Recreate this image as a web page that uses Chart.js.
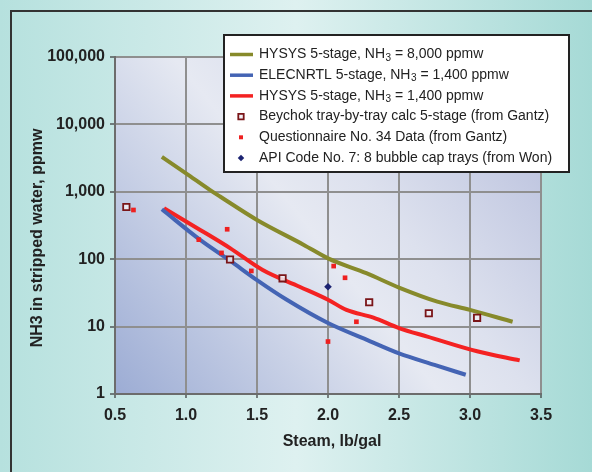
<!DOCTYPE html>
<html>
<head>
<meta charset="utf-8">
<script src="https://cdn.jsdelivr.net/npm/chart.js@4.4.1/dist/chart.umd.min.js"></script>
<style>
  html, body { margin: 0; padding: 0; background: #bfe4e1; }
  #wrap { width: 592px; height: 472px; }
</style>
</head>
<body>
<div id="wrap"><canvas id="c" width="592" height="472"></canvas></div>
<script>
// Steam rate (lb/gal) vs NH3 left in stripped water (ppmw)
const hysys8000X = [0.83, 1.0, 1.17, 1.24, 1.5, 1.83, 2.0, 2.27, 2.5, 2.77, 3.0, 3.3];
const hysys8000Y = [3300, 1880, 1060, 850, 382, 163, 103, 62, 38, 23.5, 17.7, 11.8];

const elecnrtlX = [0.83, 1.1, 1.31, 1.5, 1.71, 2.0, 2.27, 2.5, 2.75, 2.97];
const elecnrtlY = [550, 193, 95, 49, 25, 11.3, 6.4, 4.0, 2.7, 1.93];

const hysys1400X = [0.845, 1.1, 1.31, 1.54, 1.8, 2.0, 2.13, 2.32, 2.5, 2.7, 3.05, 3.35];
const hysys1400Y = [570, 272, 146, 69, 39, 25, 17.7, 13.6, 9.5, 7.1, 4.3, 3.15];

const beychokX = [0.58, 1.31, 1.68, 2.29, 2.71, 3.05];
const beychokY = [595, 99, 52, 23, 15.8, 13.5];

const questionnaireX = [0.63, 1.09, 1.25, 1.29, 1.46, 2.0, 2.04, 2.12, 2.2];
const questionnaireY = [537, 195, 124, 278, 67, 6, 79, 53, 11.8];

const apiX = [2.0];
const apiY = [39];

const xTicks = [0.5, 1.0, 1.5, 2.0, 2.5, 3.0, 3.5];
const yTicks = [1, 10, 100, 1000, 10000, 100000];

const xTitle = 'Steam, lb/gal';
const yTitle = 'NH3 in stripped water, ppmw';

// legend rows: [text before subscript, subscript, text after]
const legendRows = [
  ['HYSYS 5-stage, NH', '3', ' = 8,000 ppmw'],
  ['ELECNRTL 5-stage, NH', '3', ' = 1,400 ppmw'],
  ['HYSYS 5-stage, NH', '3', ' = 1,400 ppmw'],
  ['Beychok tray-by-tray calc 5-stage (from Gantz)', '', ''],
  ['Questionnaire No. 34 Data (from Gantz)', '', ''],
  ['API Code No. 7: 8 bubble cap trays (from Won)', '', '']
];

const OLIVE = '#878a2b';
const BLUE = '#4464b4';
const RED = '#f42222';
const BEY = '#7a1518';
const QRED = '#ee2020';
const NAVY = '#1c2372';

const pairs = (xs, ys) => xs.map((x, i) => ({ x: x, y: ys[i] }));

const FONT = "'Liberation Sans', Arial, sans-serif";

const backdrop = {
  id: 'backdrop',
  beforeDraw(chart) {
    const ctx = chart.ctx;
    const W = chart.width, H = chart.height;
    const a = chart.chartArea;
    ctx.save();
    // outer panel
    const g = ctx.createLinearGradient(0, 0, W, 0);
    g.addColorStop(0, '#b6e1de');
    g.addColorStop(0.5, '#def1f0');
    g.addColorStop(1, '#a6dad6');
    ctx.fillStyle = g;
    ctx.fillRect(0, 0, W, H);
    ctx.strokeStyle = '#333333';
    ctx.lineWidth = 2;
    ctx.strokeRect(11, 11, W + 20, H + 20);
    // plot area
    const pg = ctx.createLinearGradient(a.left, a.bottom, a.right, a.top);
    pg.addColorStop(0, '#9cacd4');
    pg.addColorStop(0.47, '#e6e9f2');
    pg.addColorStop(0.6, '#dde1ee');
    pg.addColorStop(1, '#b2bada');
    ctx.fillStyle = pg;
    ctx.fillRect(a.left, a.top, a.right - a.left, a.bottom - a.top);
    ctx.restore();
  },
  afterDraw(chart) {
    const ctx = chart.ctx;
    const a = chart.chartArea;
    ctx.save();
    // axis titles
    ctx.fillStyle = '#222222';
    ctx.font = 'bold 16px ' + FONT;
    ctx.textAlign = 'center';
    ctx.textBaseline = 'middle';
    ctx.fillText(xTitle, (a.left + a.right) / 2 + 4, 442);
    ctx.save();
    ctx.translate(38, 238);
    ctx.rotate(-Math.PI / 2);
    ctx.fillText(yTitle, 0, 0);
    ctx.restore();

    // legend box
    const L = 224, T = 35, R = 569, B = 172;
    ctx.fillStyle = '#ffffff';
    ctx.fillRect(L, T, R - L, B - T);
    ctx.strokeStyle = '#222222';
    ctx.lineWidth = 2;
    ctx.strokeRect(L, T, R - L, B - T);

    const ds = chart.data.datasets;
    ctx.textAlign = 'left';
    ctx.textBaseline = 'middle';
    legendRows.forEach((row, i) => {
      const y = 54.5 + i * 20.7;
      const d = ds[i];
      if (d.showLine) {
        ctx.strokeStyle = d.borderColor;
        ctx.lineWidth = 3.5;
        ctx.beginPath();
        ctx.moveTo(230, y);
        ctx.lineTo(253, y);
        ctx.stroke();
      } else {
        ctx.fillStyle = d.backgroundColor;
        ctx.strokeStyle = d.borderColor;
        ctx.lineWidth = d.borderWidth;
        ctx.beginPath();
        const r = d.pointRadius * 0.85;
        if (d.pointStyle === 'rectRot') {
          ctx.moveTo(241, y - r); ctx.lineTo(241 + r, y); ctx.lineTo(241, y + r); ctx.lineTo(241 - r, y);
        } else {
          const s = Math.SQRT1_2 * r;
          ctx.rect(241 - s, y - s, 2 * s, 2 * s);
        }
        ctx.closePath();
        ctx.fill();
        if (d.borderWidth) ctx.stroke();
      }
      ctx.fillStyle = '#222222';
      ctx.font = '14px ' + FONT;
      let x = 259;
      ctx.fillText(row[0], x, y);
      x += ctx.measureText(row[0]).width;
      if (row[1]) {
        ctx.font = '10px ' + FONT;
        ctx.fillText(row[1], x + 0.5, y + 3.5);
        x += ctx.measureText(row[1]).width + 0.5;
        ctx.font = '14px ' + FONT;
        ctx.fillText(row[2], x, y);
      }
    });
    ctx.restore();
  }
};

const lineSet = (xs, ys, color) => ({
  data: pairs(xs, ys),
  showLine: true,
  borderColor: color,
  backgroundColor: color,
  borderWidth: 4,
  pointRadius: 0,
  cubicInterpolationMode: 'monotone',
  order: 2
});

new Chart(document.getElementById('c'), {
  type: 'scatter',
  data: {
    datasets: [
      lineSet(hysys8000X, hysys8000Y, OLIVE),
      lineSet(elecnrtlX, elecnrtlY, BLUE),
      lineSet(hysys1400X, hysys1400Y, RED),
      {
        data: pairs(beychokX, beychokY),
        pointStyle: 'rect',
        pointRadius: 4.5,
        borderWidth: 1.8,
        borderColor: BEY,
        backgroundColor: 'rgba(240,238,245,0.85)',
        order: 1
      },
      {
        data: pairs(questionnaireX, questionnaireY),
        pointStyle: 'rect',
        pointRadius: 3.3,
        borderWidth: 0,
        borderColor: QRED,
        backgroundColor: QRED,
        order: 1
      },
      {
        data: pairs(apiX, apiY),
        pointStyle: 'rectRot',
        pointRadius: 3.8,
        borderWidth: 0,
        borderColor: NAVY,
        backgroundColor: NAVY,
        order: 0
      }
    ]
  },
  options: {
    responsive: false,
    animation: false,
    events: [],
    layout: { padding: { left: 0, top: 57, right: 51, bottom: 0 } },
    plugins: {
      legend: { display: false },
      tooltip: { enabled: false }
    },
    scales: {
      x: {
        type: 'linear',
        min: 0.5,
        max: 3.5,
        afterBuildTicks: s => { s.ticks = xTicks.map(v => ({ value: v })); },
        afterFit: s => { s.height = 78; },
        ticks: {
          color: '#222222',
          font: { family: FONT, size: 16, weight: 'bold' },
          padding: 8,
          maxRotation: 0,
          callback: v => Number(v).toFixed(1)
        },
        grid: { color: '#8f8f8f', lineWidth: 2, tickColor: '#333333', tickWidth: 1.2, tickLength: 4 },
        border: { color: '#6c6c6c', width: 2 }
      },
      y: {
        type: 'logarithmic',
        min: 1,
        max: 100000,
        afterBuildTicks: s => { s.ticks = yTicks.map(v => ({ value: v })); },
        afterFit: s => { s.width = 115; },
        ticks: {
          color: '#222222',
          font: { family: FONT, size: 16, weight: 'bold' },
          padding: 5,
          callback: v => Number(v).toLocaleString('en-US')
        },
        grid: { color: '#8f8f8f', lineWidth: 2, tickColor: '#333333', tickWidth: 1.2, tickLength: 5 },
        border: { color: '#6c6c6c', width: 2 }
      }
    }
  },
  plugins: [backdrop]
});
</script>
</body>
</html>
